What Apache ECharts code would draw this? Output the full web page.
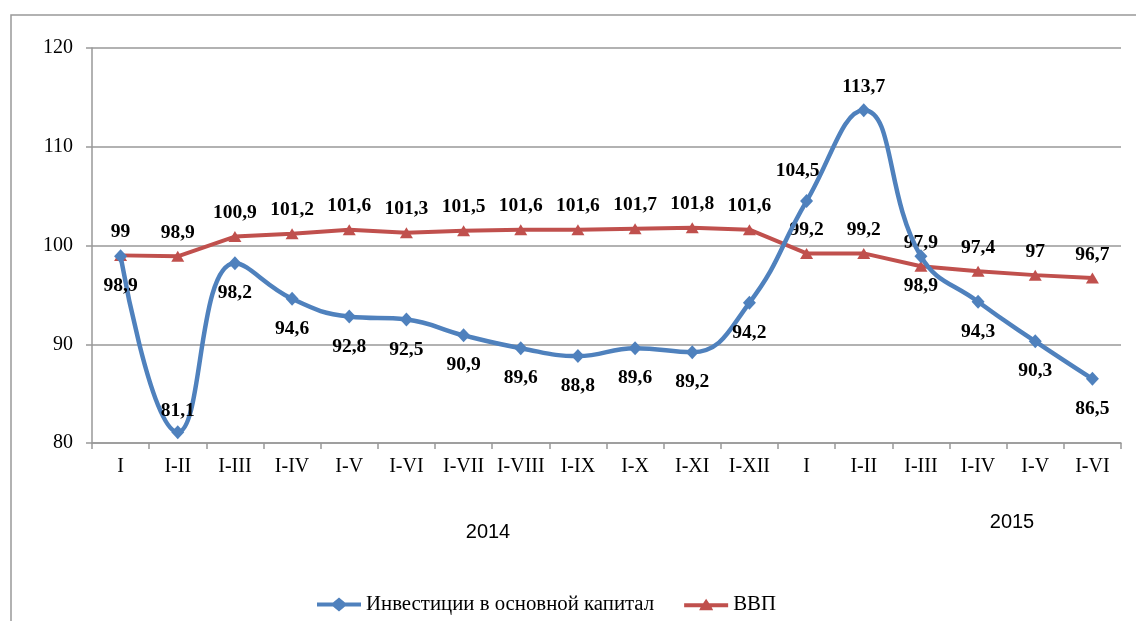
<!DOCTYPE html>
<html><head><meta charset="utf-8">
<script src="https://cdn.jsdelivr.net/npm/echarts@6/dist/echarts.min.js"></script>
<style>html,body{margin:0;padding:0;background:#fff}#c{width:1136px;height:621px}</style>
</head><body><div id="c"></div>
<script>
const categories = ['I','I-II','I-III','I-IV','I-V','I-VI','I-VII','I-VIII','I-IX','I-X','I-XI','I-XII','I','I-II','I-III','I-IV','I-V','I-VI'];
const investName = 'Инвестиции в основной капитал';
const gdpName = 'ВВП';
const investValues = [98.9, 81.1, 98.2, 94.6, 92.8, 92.5, 90.9, 89.6, 88.8, 89.6, 89.2, 94.2, 104.5, 113.7, 98.9, 94.3, 90.3, 86.5];
const gdpValues = [99, 98.9, 100.9, 101.2, 101.6, 101.3, 101.5, 101.6, 101.6, 101.7, 101.8, 101.6, 99.2, 99.2, 97.9, 97.4, 97, 96.7];
const yearLabels = ['2014', '2015'];

const fmt = p => String(p.value).replace('.', ',');
const labelFont = {fontFamily: 'Liberation Serif', fontWeight: 'bold', fontSize: 19.5, color: '#000'};

const investData = investValues.map((v, i) => {
  const item = {value: v};
  if (i === 1) item.label = {position: 'top', distance: 4};
  else if (i === 12) item.label = {position: 'top', distance: 13, offset: [-9, 0]};
  else if (i === 13) item.label = {position: 'top', distance: 6};
  return item;
});

const iconDiamondLine = 'path://M0,5 L16,5 L22,0 L28,5 L44,5 L44,9 L28,9 L22,14 L16,9 L0,9 Z';
const iconTriangleLine = 'path://M0,5 L19,5 L22,0.5 L25,5 L44,5 L44,9 L27.5,9 L29,12 L15,12 L16.5,9 L0,9 Z';

const chart = echarts.init(document.getElementById('c'), null, {renderer: 'canvas'});
chart.setOption({
  animation: false,
  grid: {left: 92, right: 15, top: 48, bottom: 178, containLabel: false},
  xAxis: {
    type: 'category', data: categories, boundaryGap: true,
    axisLine: {lineStyle: {color: '#999', width: 1.5}},
    axisTick: {show: true, length: 6, lineStyle: {color: '#999', width: 1.5}},
    axisLabel: {fontFamily: 'Liberation Serif', fontSize: 20, color: '#000', margin: 14, interval: 0}
  },
  yAxis: {
    type: 'value', min: 80, max: 120, interval: 10,
    axisLine: {show: true, lineStyle: {color: '#999', width: 1.5}},
    axisTick: {show: true, length: 6, lineStyle: {color: '#999', width: 1.5}},
    splitLine: {lineStyle: {color: '#999', width: 1.5}},
    axisLabel: {fontFamily: 'Liberation Serif', fontSize: 20, color: '#000', margin: 19}
  },
  legend: {
    left: 312, top: 589, itemWidth: 44, itemHeight: 14, itemGap: 30,
    textStyle: {fontFamily: 'Liberation Serif', fontSize: 20.8, color: '#000'},
    data: [
      {name: investName, icon: iconDiamondLine, itemStyle: {color: '#4F81BD'}},
      {name: gdpName, icon: iconTriangleLine, itemStyle: {color: '#C0504D'}}
    ]
  },
  series: [
    {
      name: investName, type: 'line', data: investData, smooth: 0.45,
      symbol: 'diamond', symbolSize: [13, 14],
      lineStyle: {color: '#4F81BD', width: 4.5},
      itemStyle: {color: '#4F81BD'},
      label: Object.assign({show: true, position: 'bottom', distance: 13, formatter: fmt}, labelFont),
      z: 3
    },
    {
      name: gdpName, type: 'line', data: gdpValues, smooth: false,
      symbol: 'triangle', symbolSize: [13, 11],
      lineStyle: {color: '#C0504D', width: 4},
      itemStyle: {color: '#C0504D'},
      label: Object.assign({show: true, position: 'top', distance: 8, formatter: fmt}, labelFont),
      z: 2
    }
  ],
  graphic: [
    {type: 'rect', shape: {x: 11, y: 15, width: 1300, height: 800}, style: {fill: 'none', stroke: '#999', lineWidth: 1.5}, silent: true},
    {type: 'text', x: 488, y: 532, style: {text: yearLabels[0], font: '20px "Liberation Sans"', fill: '#000', textAlign: 'center', textVerticalAlign: 'middle'}},
    {type: 'text', x: 1012, y: 522, style: {text: yearLabels[1], font: '20px "Liberation Sans"', fill: '#000', textAlign: 'center', textVerticalAlign: 'middle'}}
  ]
});
</script>
</body></html>
